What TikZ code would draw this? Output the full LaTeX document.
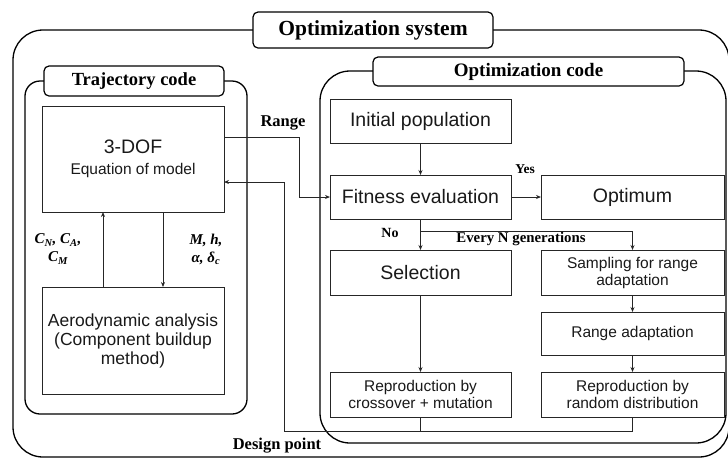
\documentclass[tikz,border=0pt]{standalone}
\usepackage{fontspec}
\setmainfont{Liberation Serif}
\setsansfont{Liberation Sans}
\usetikzlibrary{arrows.meta}
\newcommand\myfs[2]{\fontsize{#1}{#2}\selectfont}
\begin{document}
\begin{tikzpicture}[x=1pt,y=-1pt,
  frame/.style={draw=black, line width=1.3pt, rounded corners=#1, inner sep=0pt, outer sep=0pt},
  ttl/.style={draw=black, fill=white, line width=1.2pt, rounded corners=5pt, inner sep=0pt, outer sep=0pt, font=\bfseries},
  box/.style={draw=black!85, line width=0.9pt, inner sep=0pt, outer sep=0pt, align=center, text=black!90, font=\sffamily},
  big/.style={font=\sffamily\myfs{19.5}{23}},
  small/.style={font=\sffamily\myfs{15.5}{17}},
  lbl/.style={inner sep=0pt, font=\bfseries\myfs{15}{17}},
  arr/.style={-{Stealth[length=5pt,width=4pt]}, line width=0.9pt, draw=black!85},
  ln/.style={line width=0.9pt, draw=black!85}]
\useasboundingbox (0,0) rectangle (728,459);

% containers
\node[frame=30pt, minimum width=716pt, minimum height=427pt] (sysframe) at (371,243.5) {};
\node[frame=15pt, minimum width=222pt, minimum height=333pt] (trajframe) at (136,247.5) {};
\node[frame=30pt, minimum width=406pt, minimum height=372pt] (optframe) at (523,257) {};

% titles
\node[ttl, minimum width=240pt, minimum height=36pt, font=\bfseries\myfs{21.5}{24}] (systitle) at (373,30) {Optimization system};
\node[ttl, minimum width=180pt, minimum height=30pt, font=\bfseries\myfs{18.5}{21}] (trajtitle) at (134,81) {Trajectory code};
\node[ttl, minimum width=311pt, minimum height=29pt, font=\bfseries\myfs{19}{21}] (opttitle) at (528.5,71.5) {Optimization code};

% trajectory boxes
\node[box, minimum width=182pt, minimum height=106pt] (dof) at (133,159)
  {{\myfs{19.5}{22}3-DOF}\\[9pt]{\myfs{15.5}{18}Equation of model}};
\node[box, minimum width=182pt, minimum height=107pt, font=\sffamily\myfs{17.5}{19}] (aero) at (133,340.5)
  {Aerodynamic analysis\\(Component buildup\\method)};

% optimization boxes
\node[box, big, minimum width=181pt, minimum height=44pt] (init) at (420.5,121) {Initial population};
\node[box, big, minimum width=181pt, minimum height=44pt] (fit) at (420.5,197) {Fitness evaluation};
\node[box, big, minimum width=183pt, minimum height=44pt] (optimum) at (632.5,197) {Optimum};
\node[box, big, minimum width=181pt, minimum height=45pt] (sel) at (420.5,272.5) {Selection};
\node[box, small, minimum width=183pt, minimum height=45pt] (samp) at (632.5,272.5) {Sampling for range\\adaptation};
\node[box, small, minimum width=183pt, minimum height=43pt] (radapt) at (632.5,333.5) {Range adaptation};
\node[box, small, minimum width=181pt, minimum height=45pt] (repc) at (420.5,394.5) {Reproduction by\\crossover + mutation};
\node[box, small, minimum width=183pt, minimum height=45pt] (repr) at (632.5,394.5) {Reproduction by\\random distribution};

% trajectory connectors
\draw[arr] (aero.north -| 103,0) -- (dof.south -| 103,0);
\draw[arr] (dof.south -| 163,0) -- (aero.north -| 163,0);
\node[lbl, align=center, font=\bfseries\itshape\myfs{15}{18}] (clbl) at (58,249)
  {C\textsubscript{N}, C\textsubscript{A},\\C\textsubscript{M}};
\node[lbl, align=center, font=\bfseries\itshape\myfs{15}{18}] (mlbl) at (206,249)
  {M, h,\\α, δ\textsubscript{c}};

% optimization connectors
\draw[arr] (init) -- (fit);
\draw[arr] (fit) -- (optimum);
\coordinate (fork) at (420.5,231);
\draw[ln] (fit.south) -- (fork);
\draw[arr] (fork) -| (samp.north);
\draw[arr] (fork) -- (sel.north);
\draw[arr] (sel) -- (repc);
\draw[arr] (samp) -- (radapt);
\draw[arr] (radapt) -- (repr);

% range connector
\coordinate (rangeturn) at (299,197);
\draw[arr] ([yshift=22pt]dof.east) -| (rangeturn) -- (fit.west);

% design point feedback
\coordinate (dpturn) at (284,431);
\draw[arr] (repr.south) |- (dpturn) |- ([yshift=-23pt]dof.east);
\draw[ln] (repc.south) -- (repc.south |- dpturn);

% labels
\node[lbl, font=\bfseries\myfs{16.5}{18}] (rangelbl) at (283,123) {Range};
\node[lbl, font=\bfseries\myfs{16.5}{18}] (dplbl) at (277,446) {Design point};
\node[lbl, font=\bfseries\myfs{13.5}{15}] (yeslbl) at (525,169) {Yes};
\node[lbl, font=\bfseries\myfs{14}{15}] (nolbl) at (390,233) {No};
\node[lbl, font=\bfseries\myfs{14.8}{16}] (evlbl) at (521,239) {Every N generations};
\end{tikzpicture}
\end{document}
